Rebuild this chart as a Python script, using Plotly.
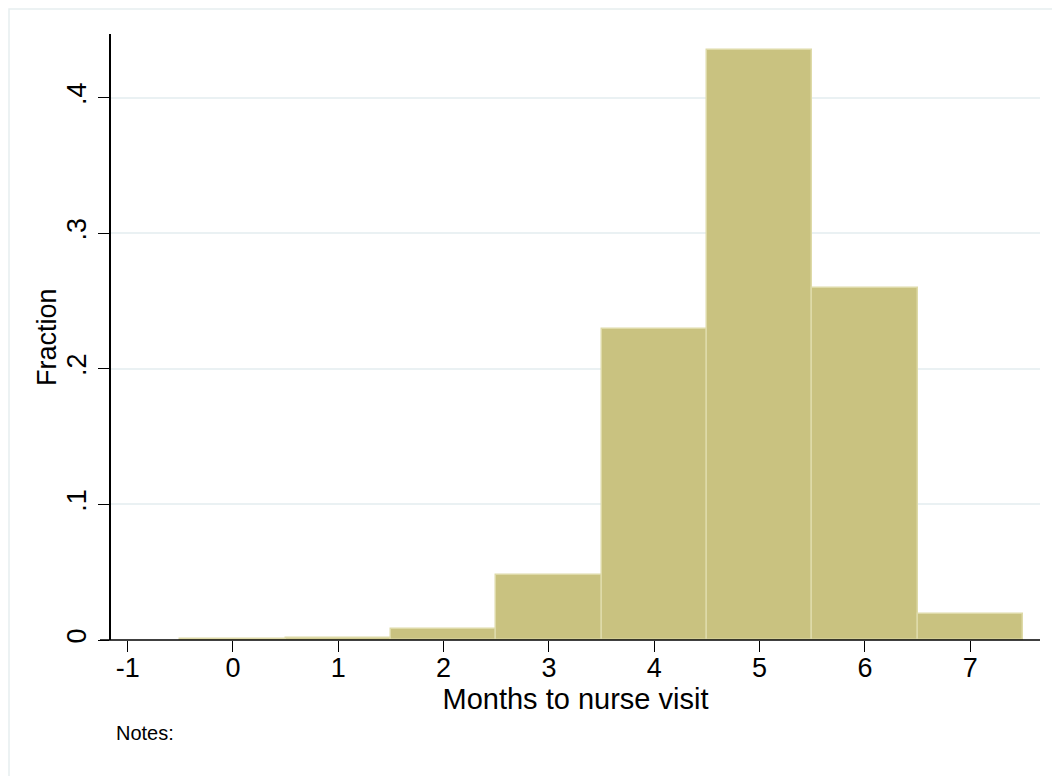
import plotly.graph_objects as go

# histogram of months to nurse visit (bin width 1, centred on integers)
months = [0, 1, 2, 3, 4, 5, 6, 7]
fraction = [0.0006, 0.0013, 0.0081, 0.048, 0.2295, 0.4354, 0.2598, 0.0192]

x_ticks = [-1, 0, 1, 2, 3, 4, 5, 6, 7]
x_tick_labels = ["-1", "0", "1", "2", "3", "4", "5", "6", "7"]
y_ticks = [0, 0.1, 0.2, 0.3, 0.4]
y_tick_labels = ["0", ".1", ".2", ".3", ".4"]

FONT = "Liberation Sans, Arial, sans-serif"
BAR_FILL = "#C9C280"
BAR_LINE = "#DEDAA8"
GRID = "#EAF1F3"

# page body keeps its default 8px margin, so the figure is 8px smaller
W, H = 1052, 768
L, R, T, B = 103, 20, 26, 136
PW, PH = W - L - R, H - T - B

fig = go.Figure()
fig.add_trace(
    go.Bar(
        x=months,
        y=fraction,
        width=1,
        marker=dict(color=BAR_FILL, line=dict(color=BAR_LINE, width=1.5)),
        showlegend=False,
    )
)

fig.update_layout(
    width=W,
    height=H,
    margin=dict(l=L, r=R, t=T, b=B),
    paper_bgcolor="white",
    plot_bgcolor="white",
    font=dict(family=FONT, color="black"),
    bargap=0,
    xaxis=dict(
        range=[-1.158, 7.662],
        tickvals=x_ticks,
        ticktext=x_tick_labels,
        ticks="outside",
        ticklen=11,
        tickwidth=1.3,
        tickcolor="black",
        tickfont=dict(size=27),
        ticklabelstandoff=-7,
        showgrid=False,
        zeroline=False,
        showline=False,
        title=dict(text="Months to nurse visit", font=dict(size=29), standoff=1),
    ),
    yaxis=dict(
        range=[0, 0.447],
        tickvals=y_ticks,
        ticktext=y_tick_labels,
        tickangle=-90,
        ticks="outside",
        ticklen=11,
        tickwidth=1.3,
        tickcolor="black",
        tickfont=dict(size=27),
        ticklabelstandoff=1,
        showgrid=True,
        gridcolor=GRID,
        gridwidth=1.5,
        zeroline=False,
        showline=True,
        linecolor="black",
        linewidth=1.5,
    ),
)

# y axis title placed by hand, Stata sets it close to the tick labels
fig.add_annotation(
    text="Fraction", xref="paper", yref="paper",
    x=-64 / PW, y=0.5, xanchor="center", yanchor="middle", textangle=-90,
    showarrow=False, font=dict(size=27, family=FONT),
)

# x axis line extends a little left of the y axis (Stata style)
fig.add_shape(
    type="line", xref="paper", yref="paper",
    x0=-11 / PW, x1=1, y0=0, y1=0,
    line=dict(color="black", width=1.5),
)

# faint outer frame of the graph region
fig.add_shape(
    type="rect", xref="paper", yref="paper",
    x0=-(L - 1) / PW, x1=1 + (R + 30) / PW, y0=-(B + 30) / PH, y1=1 + (T - 1) / PH,
    line=dict(color="#E6EEF0", width=1.5),
    layer="below",
)

fig.add_annotation(
    text="Notes:", xref="paper", yref="paper",
    x=3 / PW, y=-93 / PH, xanchor="left", yanchor="middle",
    showarrow=False, font=dict(size=20, family=FONT),
)

fig.write_html("out.html")
